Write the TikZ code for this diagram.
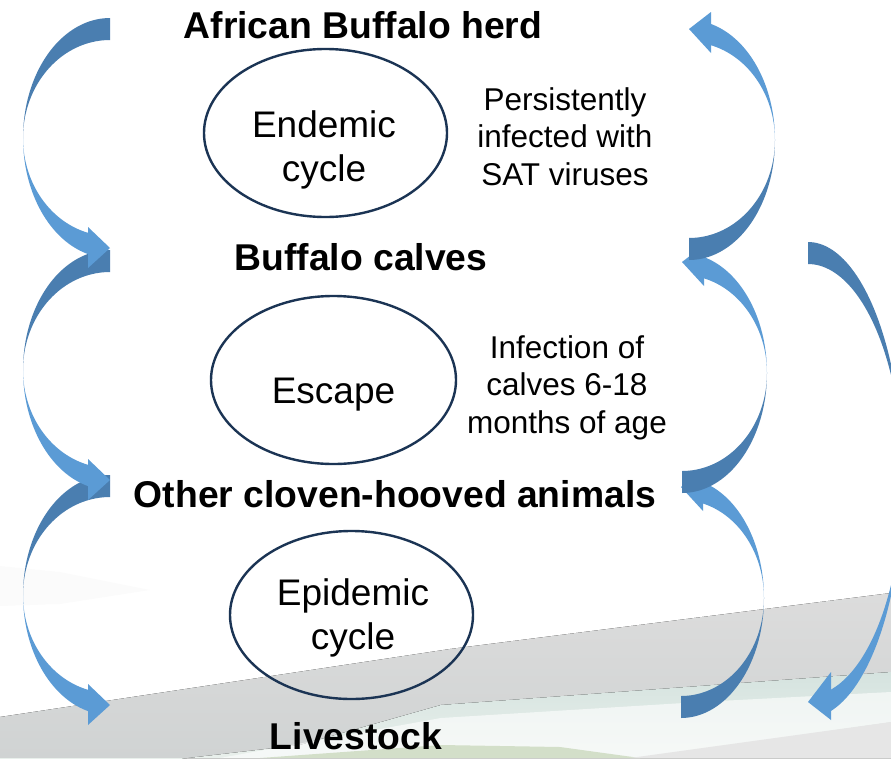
\documentclass[tikz,border=0pt]{standalone}
\usepackage{fontspec}
\setmainfont{Liberation Sans}
\usetikzlibrary{shapes.geometric}
\definecolor{arrL}{HTML}{5B9BD5}
\definecolor{arrD}{HTML}{4A7EB0}
\definecolor{ringc}{HTML}{1B3454}
\definecolor{bgA}{HTML}{DCDCDC}
\definecolor{bgB}{HTML}{D0D3D3}
\definecolor{mistA}{HTML}{D5E3DF}
\definecolor{mistB}{HTML}{EEF3EF}
\definecolor{grassc}{HTML}{D3DFC9}
\definecolor{floorc}{HTML}{E6E6E6}
% curved arrow bending to the left: tail top, head bottom
\newcommand\LArrowShape[3]{%
  \pgfmathsetmacro\hA{acos(-22/#3)}%
  \fill[arrD] plot[variable=\t,domain=270:180,samples=40] ({#1+#3*cos(\t)},{#2+120*sin(\t)})
     -- plot[variable=\t,domain=180:270,samples=40] ({#1+#3*cos(\t)},{#2+98*sin(\t)}) -- cycle;
  \fill[arrL] plot[variable=\t,domain=180:\hA,samples=40] ({#1+#3*cos(\t)},{#2+120*sin(\t)})
     -- plot[variable=\t,domain=\hA:180,samples=40] ({#1+#3*cos(\t)},{#2+98*sin(\t)}) -- cycle;
  \fill[arrL] (#1-22,#2+89) -- (#1,#2+110) -- (#1-22,#2+130) -- cycle;
}
% curved arrow bending to the right: head top, tail bottom
\newcommand\RArrowShape[3]{%
  \pgfmathsetmacro\hB{360-acos(22/#3)}%
  \fill[arrL] plot[variable=\t,domain=\hB:360,samples=40] ({#1+#3*cos(\t)},{#2+120*sin(\t)})
     -- plot[variable=\t,domain=360:\hB,samples=40] ({#1+#3*cos(\t)},{#2+98*sin(\t)}) -- cycle;
  \fill[arrL] (#1+22,#2-128) -- (#1,#2-111) -- (#1+22,#2-87) -- cycle;
  \fill[arrD] plot[variable=\t,domain=0:90,samples=40] ({#1+#3*cos(\t)},{#2+120*sin(\t)})
     -- plot[variable=\t,domain=90:0,samples=40] ({#1+#3*cos(\t)},{#2+98*sin(\t)}) -- cycle;
}
\tikzset{
  lbl/.style={font=\fontsize{37.3}{44}\selectfont\bfseries, anchor=base, inner sep=0pt},
  cyc/.style={draw=ringc, line width=2.4pt, ellipse, minimum width=243pt, minimum height=168pt, inner sep=0pt},
  ctext/.style={font=\fontsize{37}{44}\selectfont, align=center, inner sep=0pt},
  note/.style={font=\fontsize{31.5}{37.5}\selectfont, align=center, inner sep=0pt},
}
\begin{document}
\begin{tikzpicture}[x=1pt,y=-1pt]
\clip (0,0) rectangle (891,758);
\fill[white] (0,0) rectangle (891,758);
% background landscape
\fill[black, opacity=0.015] (0,566) -- (60,572) -- (150,590) -- (60,604) -- (0,606) -- cycle;
\fill[top color=bgA, bottom color=bgB] (0,717) -- (450,649) -- (891,593) -- (891,758) -- (0,758) -- cycle;
\fill[top color=mistA, bottom color=mistB] (0,780) -- (300,745) -- (441,705) -- (891,672) -- (891,758) -- (0,758) -- cycle;
\fill[white, opacity=0.6] (220,758) -- (441,718) -- (700,702) -- (891,692) -- (891,722) -- (640,758) -- cycle;
\fill[grassc] (260,758) -- (441,745) -- (560,747) -- (640,758) -- cycle;
\fill[floorc] (630,758) -- (891,722) -- (891,758) -- cycle;
% curved block arrows
\LArrowShape{110}{595}{87}
\LArrowShape{110}{370}{87}
\LArrowShape{110}{138}{87}
\RArrowShape{681}{598}{83}
\RArrowShape{682}{373}{85}
\RArrowShape{689}{140}{86}
% far right arrow
\fill[arrD] plot[variable=\t,domain=270:360,samples=50] ({808+95*cos(\t)},{480+238*sin(\t)})
   -- plot[variable=\t,domain=360:270,samples=50] ({808+95*cos(\t)},{480+216*sin(\t)}) -- cycle;
\pgfmathsetmacro\hC{acos(23/95)}
\fill[arrL] plot[variable=\t,domain=0:\hC,samples=50] ({808+95*cos(\t)},{480+238*sin(\t)})
   -- plot[variable=\t,domain=\hC:0,samples=50] ({808+95*cos(\t)},{480+216*sin(\t)}) -- cycle;
\fill[arrL] (831,672) -- (808,702) -- (831,720) -- cycle;
% cycles
\node[cyc] (endemic) at (325.5,133) {};
\node[cyc, minimum width=245pt] (escape) at (333.5,380) {};
\node[cyc] (epidemic) at (351.5,615) {};
\node[ctext] (endemicT) at (324,149.5) {Endemic\\cycle};
\node[ctext, anchor=base] (escapeT) at (333.5,403) {Escape};
\node[ctext] (epidemicT) at (353,617.5) {Epidemic\\cycle};
% labels
\node[lbl] (herd) at (363,38) {African Buffalo herd};
\node[lbl] (calves) at (361,270) {Buffalo calves};
\node[lbl] (other) at (395,507) {Other cloven-hooved animals};
\node[lbl] (live) at (356,749) {Livestock};
\node[note] (note1) at (565,136.5) {Persistently\\infected with\\SAT viruses};
\node[note] (note2) at (567,387.5) {Infection of\\calves 6-18\\months of age};
\end{tikzpicture}
\end{document}
